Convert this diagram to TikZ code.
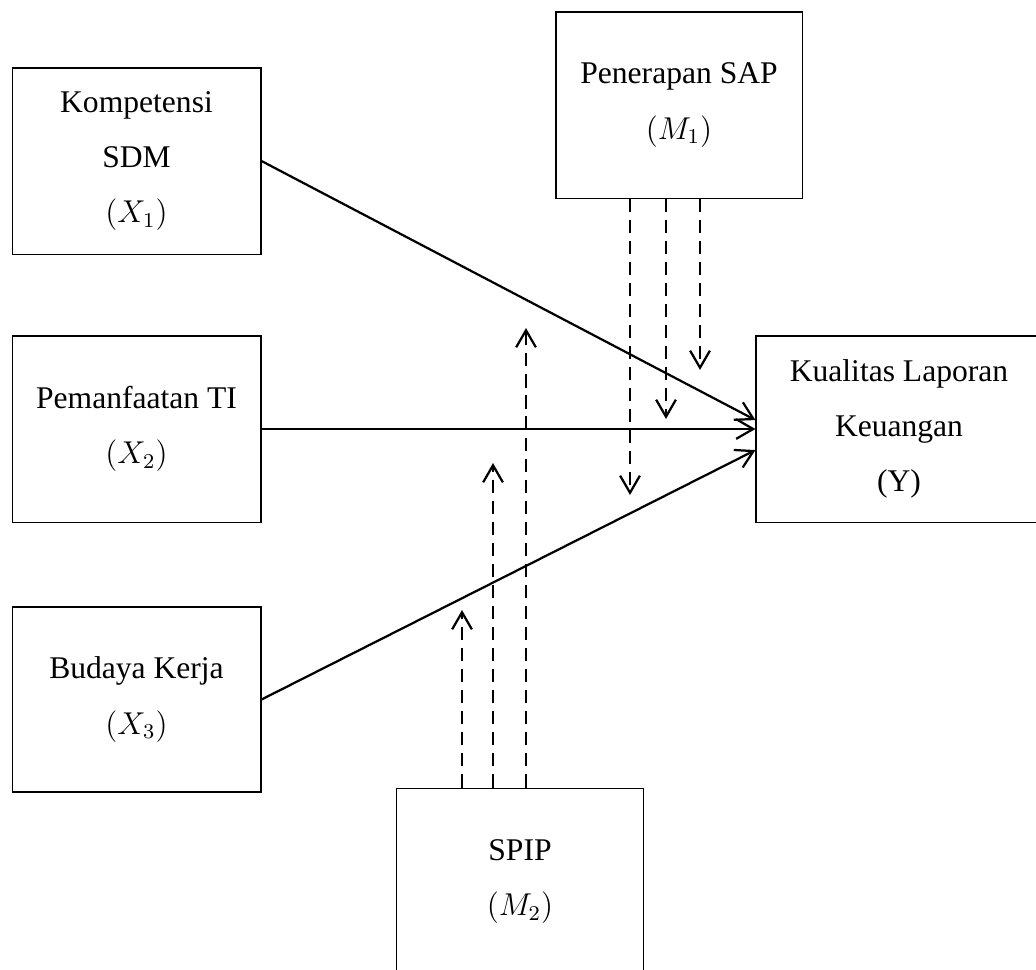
\documentclass[tikz,border=0pt]{standalone}
\usepackage{fontspec}
\setmainfont{Liberation Serif}
\usetikzlibrary{arrows.meta}

\begin{document}
\begin{tikzpicture}[x=0.38pt, y=-0.38pt,
    box/.style={draw, line width=0.4pt, align=center, inner sep=0pt, font=\fontsize{12}{21}\selectfont},
    effect/.style={-{Straight Barb[length=6.5pt, width=7.5pt]}, line width=0.85pt},
    modline/.style={effect, dash pattern=on 5pt off 3pt}]
    \useasboundingbox (0,0) rectangle (1036,969);

    \node (x1) at (136.5,161) [box, minimum width=94.6pt, minimum height=70.7pt] {Kompetensi\\SDM\\$(X_1)$};
    \node (x2) at (136.5,429) [box, minimum width=94.6pt, minimum height=70.7pt] {Pemanfaatan TI\\$(X_2)$};
    \node (x3) at (136.5,699.5) [box, minimum width=94.6pt, minimum height=70.3pt] {Budaya Kerja\\$(X_3)$};

    % right side of this box is cut off by the page
    \node (y) at (899,429) [box, minimum width=108.7pt, minimum height=70.7pt] {Kualitas Laporan\\Keuangan\\(Y)};

    \node (m1) at (679,105) [box, minimum width=93.5pt, minimum height=70.7pt] {Penerapan SAP\\$(M_1)$};
    % box runs off the bottom edge
    \node (m2) at (520,905) [box, minimum width=94.2pt, minimum height=88.9pt] {SPIP\\$(M_2)$\\ };

    \draw[effect] (x1.east) -- ([yshift=3.4pt]y.west);
    \draw[effect] (x2.east) -- (x2.east -| y.west);
    \draw[effect] (x3.east) -- ([yshift=-8pt]y.west);

    % moderating paths
    \coordinate (a1) at (630,495);
    \coordinate (a2) at (666,419);
    \coordinate (a3) at (700,370);
    \coordinate (b1) at (462,610);
    \coordinate (b2) at (493,463);
    \coordinate (b3) at (526,328);

    \foreach \t in {a1,a2,a3}
        \draw[modline] (m1.south -| \t) -- (\t);
    \foreach \t in {b1,b2,b3}
        \draw[modline] (m2.north -| \t) -- (\t);
\end{tikzpicture}
\end{document}
